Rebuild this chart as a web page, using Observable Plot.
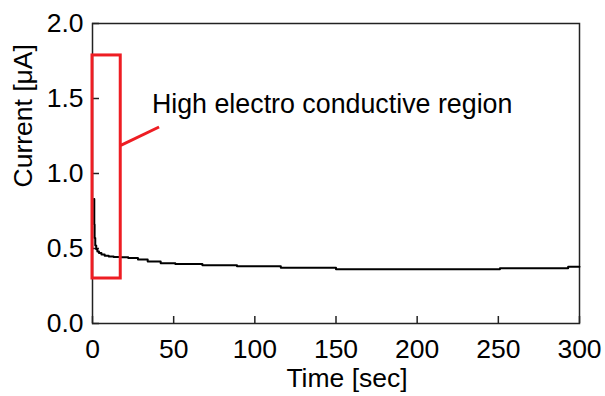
<!DOCTYPE html>
<html>
<head>
<meta charset="utf-8">
<script src="https://cdn.jsdelivr.net/npm/d3@7"></script>
<script src="https://cdn.jsdelivr.net/npm/@observablehq/plot@0.6"></script>
<style>
  html, body { margin: 0; padding: 0; background: #fff; }
</style>
</head>
<body>
<div id="chart"></div>
<script>
// Measured current (µA) vs time (sec); step-like logger output
const time = [1.0, 1.1, 1.3, 1.7, 2.3, 3, 4, 5.5, 7.5, 10, 13, 17, 22, 28, 34, 42, 51, 67.7, 89, 116, 150, 251, 293, 300];
const current = [0.83, 0.66, 0.57, 0.52, 0.495, 0.48, 0.47, 0.46, 0.452, 0.447, 0.444, 0.442, 0.436, 0.427, 0.413, 0.402, 0.397, 0.389, 0.382, 0.371, 0.361, 0.369, 0.378, 0.378];

const xTicks = [0, 50, 100, 150, 200, 250, 300];
const yTicks = [0, 0.5, 1.0, 1.5, 2.0];

const xLabel = "Time [sec]";
const yLabel = "Current [μA]";

// Highlighted region and its callout
const regionX = [0, 17.4];
const regionY = [0.3, 1.787];
const calloutX = [17.4, 41];
const calloutY = [1.187, 1.31];
const calloutText = "High electro conductive region";
const calloutPos = [36.6, 1.46];

const data = time.map((t, i) => ({t, c: current[i]}));
const red = "#ee1d23";
const ink = "#222";

const chart = Plot.plot({
  width: 605,
  height: 396,
  marginLeft: 92,
  marginRight: 26,
  marginTop: 23,
  marginBottom: 73,
  style: {fontFamily: "Arial, 'Liberation Sans', sans-serif", fontSize: "26px", color: "#000", background: "#fff"},
  x: {domain: [0, 300], ticks: xTicks},
  y: {domain: [0, 2], ticks: yTicks},
  marks: [
    Plot.axisX(xTicks, {tickSize: 0, tickPadding: 16, label: null, fontSize: 26.5, tickFormat: d => d}),
    Plot.axisX(xTicks, {tickSize: -7, tickFormat: () => "", label: null, stroke: ink, strokeWidth: 1.5}),
    Plot.axisY(yTicks, {tickSize: 0, tickPadding: 9, label: null, fontSize: 26.5, tickFormat: d3.format(".1f")}),
    Plot.axisY(yTicks, {tickSize: -7, tickFormat: () => "", label: null, stroke: ink, strokeWidth: 1.5}),
    Plot.frame({stroke: ink, strokeWidth: 1.5}),
    Plot.line(data, {x: "t", y: "c", curve: "step-after", stroke: "#000", strokeWidth: 2}),
    Plot.rect([0], {x1: () => regionX[0], x2: () => regionX[1], y1: () => regionY[0], y2: () => regionY[1], fill: "none", stroke: red, strokeWidth: 3}),
    Plot.link([0], {x1: () => calloutX[0], x2: () => calloutX[1], y1: () => calloutY[0], y2: () => calloutY[1], stroke: red, strokeWidth: 3}),
    Plot.text([calloutText], {x: () => calloutPos[0], y: () => calloutPos[1], text: d => d, textAnchor: "start", lineAnchor: "middle", fontSize: 26.8, fill: "#000"}),
    Plot.text([xLabel], {frameAnchor: "bottom", text: d => d, dy: 63, dx: 11, fontSize: 26.5, fill: "#000"}),
    Plot.text([yLabel], {frameAnchor: "left", text: d => d, rotate: -90, dx: -69, dy: 14, fontSize: 26.5, fill: "#000"})
  ]
});
document.getElementById("chart").appendChild(chart);
</script>
</body>
</html>
